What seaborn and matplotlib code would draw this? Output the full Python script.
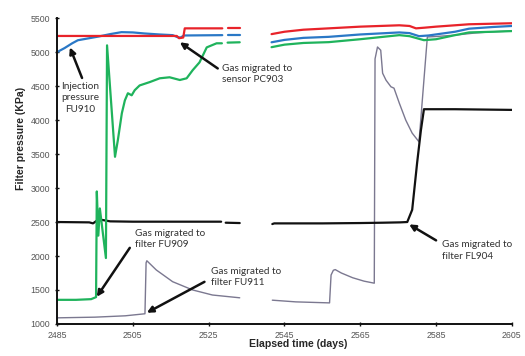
import numpy as np
import pandas as pd
import matplotlib
matplotlib.use("Agg")
import matplotlib.pyplot as plt
import seaborn as sns

nan = np.nan

# ---- data (days, kPa); NaN marks a break in the record ----
red_days = [2485, 2516.6, 2517.2, 2518.3, 2518.7, 2528.6, nan, 2530, 2533.2, nan,
            2541.6, 2545, 2550, 2556.7, 2565, 2575.3, 2578, 2579.7, 2582, 2585, 2593.7, 2605]
red_kpa = [5238, 5238, 5205, 5215, 5350, 5350, nan, 5350, 5350, nan,
           5265, 5300, 5330, 5350, 5375, 5395, 5385, 5350, 5360, 5375, 5410, 5425]

blue_days = [2485, 2487, 2489, 2490.5, 2493, 2496, 2499, 2502, 2505, 2508, 2512, 2515.5,
             2516.8, 2517.6, 2518.5, 2528.6, nan, 2530, 2533.2, nan,
             2541.6, 2545, 2550, 2556.7, 2565, 2575.3, 2578, 2580.5, 2583, 2590, 2593.7, 2600, 2605]
blue_kpa = [5000, 5060, 5130, 5175, 5200, 5230, 5265, 5294, 5290, 5275, 5260, 5250,
            5220, 5215, 5245, 5250, nan, 5250, 5250, nan,
            5145, 5180, 5210, 5225, 5260, 5290, 5280, 5235, 5245, 5300, 5345, 5370, 5385]

green_days = [2485, 2490, 2494, 2495.3, 2495.5, 2495.9, 2496.3, 2497.9, 2498.2, 2500.3,
              2501.05, 2502.1, 2502.9, 2503.7, 2504.7, 2505.5, 2506.8, 2509.5, 2512.1,
              2514.7, 2517.4, 2519.2, 2520.8, 2522.6, 2524.5, 2527.1, 2528.5, nan, 2530, 2533.2, nan,
              2541.6, 2545, 2550, 2556.7, 2565, 2575.3, 2578, 2581.8, 2585, 2590, 2593.7, 2600, 2605]
green_kpa = [1355, 1355, 1365, 1395, 2950, 2300, 2700, 1970, 5100, 3460,
             3705, 4100, 4290, 4395, 4365, 4440, 4510, 4560, 4615,
             4630, 4590, 4615, 4735, 4850, 5070, 5130, 5130, nan, 5140, 5145, nan,
             5073, 5110, 5135, 5147, 5190, 5250, 5235, 5176, 5190, 5250, 5290, 5300, 5310]

black_days = [2485, 2493.5, 2494.5, 2495.5, 2497, 2499, 2505, 2515, 2528.3, nan, 2529.5, 2533.2, nan,
              2541.8, 2542.3, 2555, 2565, 2571, 2575.5, 2577.4, 2578.7, 2580, 2581, 2581.8, 2590, 2605]
black_kpa = [2500, 2495, 2480, 2520, 2530, 2510, 2505, 2505, 2505, nan, 2490, 2485, nan,
             2470, 2480, 2480, 2485, 2490, 2495, 2500, 2680, 3370, 3850, 4160, 4160, 4150]

grey_days = [2485, 2495, 2503, 2508.2, 2508.5, 2508.7, 2511.2, 2515.5, 2520.8, 2526, 2533.2, nan,
             2541.8, 2548, 2556.9, 2557.3, 2557.9, 2558.4, 2560, 2563, 2566, 2568.7, 2568.9,
             2569.55, 2570.4, 2570.9, 2571.8, 2573.1, 2573.9, 2575.3, 2577, 2578.7, 2580.5,
             2582.7, 2585, 2590, 2595, 2600, 2605]
grey_kpa = [1090, 1100, 1120, 1150, 1900, 1930, 1794, 1622, 1500, 1426, 1385, nan,
            1350, 1325, 1310, 1720, 1790, 1800, 1750, 1680, 1630, 1600, 4900,
            5076, 5028, 4690, 4587, 4490, 4470, 4250, 4000, 3808, 3680,
            5223, 5230, 5250, 5280, 5300, 5310]

x_ticks = [2485, 2505, 2525, 2545, 2565, 2585, 2605]
y_ticks = [1000, 1500, 2000, 2500, 3000, 3500, 4000, 4500, 5000, 5500]


def to_frame(days, kpa):
    d = np.asarray(days, float)
    v = np.asarray(kpa, float)
    seg = np.cumsum(np.isnan(d))
    df = pd.DataFrame({"day": d, "kpa": v, "seg": seg})
    return df.dropna().reset_index(drop=True)


sns.set_style("ticks")
plt.rcParams["font.family"] = ["Liberation Sans", "DejaVu Sans"]

fig = plt.figure(figsize=(5.25, 3.56), dpi=100)
ax = fig.add_axes([0.1086, 0.09, 0.8664, 0.859])

series = [
    (grey_days, grey_kpa, "#7b7890", 1.0),
    (black_days, black_kpa, "#111111", 1.6),
    (green_days, green_kpa, "#1fb35c", 1.6),
    (blue_days, blue_kpa, "#2a78c6", 1.6),
    (red_days, red_kpa, "#e8232a", 1.6),
]
for d, k, c, lw in series:
    df = to_frame(d, k)
    sns.lineplot(data=df, x="day", y="kpa", units="seg", estimator=None, sort=False,
                 color=c, lw=lw, ax=ax, legend=False)

ax.set_xlim(2485, 2605)
ax.set_ylim(1000, 5500)
ax.set_xticks(x_ticks)
ax.set_xticklabels([str(t) for t in x_ticks])
ax.set_yticks(y_ticks)
ax.set_yticklabels([str(t) for t in y_ticks])
ax.tick_params(axis="both", labelsize=6.3, colors="#111111", labelcolor="#555555",
               length=3, width=1.0, direction="inout")
sns.despine(ax=ax)
for s in ["left", "bottom"]:
    ax.spines[s].set_linewidth(1.4)
    ax.spines[s].set_color("#111111")

ax.set_xlabel("Elapsed time (days)", fontsize=7.6, fontweight="bold")
ax.set_ylabel("Filter pressure (KPa)", fontsize=7.6, fontweight="bold")
ax.xaxis.set_label_coords(0.53, -0.048)
ax.yaxis.set_label_coords(-0.069, 0.608)

arrow = dict(arrowstyle="-|>", color="#111111", lw=1.8, mutation_scale=9,
             shrinkA=0, shrinkB=0)
tfont = dict(fontsize=7.2, color="#333333", family=["Lato", "DejaVu Sans"])

annots = [
    # tip, tail, text pos, text, ha
    ((2488.4, 5070), (2491.6, 4620), (2491.0, 4560), "Injection\npressure\nFU910", "center"),
    ((2517.4, 5145), (2527.4, 4760), (2528.4, 4830), "Gas migrated to\nsensor PC903", "left"),
    ((2495.5, 1400), (2504.2, 2120), (2505.6, 2400), "Gas migrated to\nfilter FU909", "left"),
    ((2508.7, 1165), (2523.9, 1620), (2525.6, 1840), "Gas migrated to\nfilter FU911", "left"),
    ((2577.9, 2465), (2585.0, 2230), (2586.6, 2230), "Gas migrated to\nfilter FL904", "left"),
]
for tip, tail, tpos, txt, ha in annots:
    ax.annotate("", xy=tip, xytext=tail, arrowprops=arrow)
    ax.text(tpos[0], tpos[1], txt, ha=ha, va="top", linespacing=1.35, **tfont)

fig.savefig("out.png", dpi=100)
